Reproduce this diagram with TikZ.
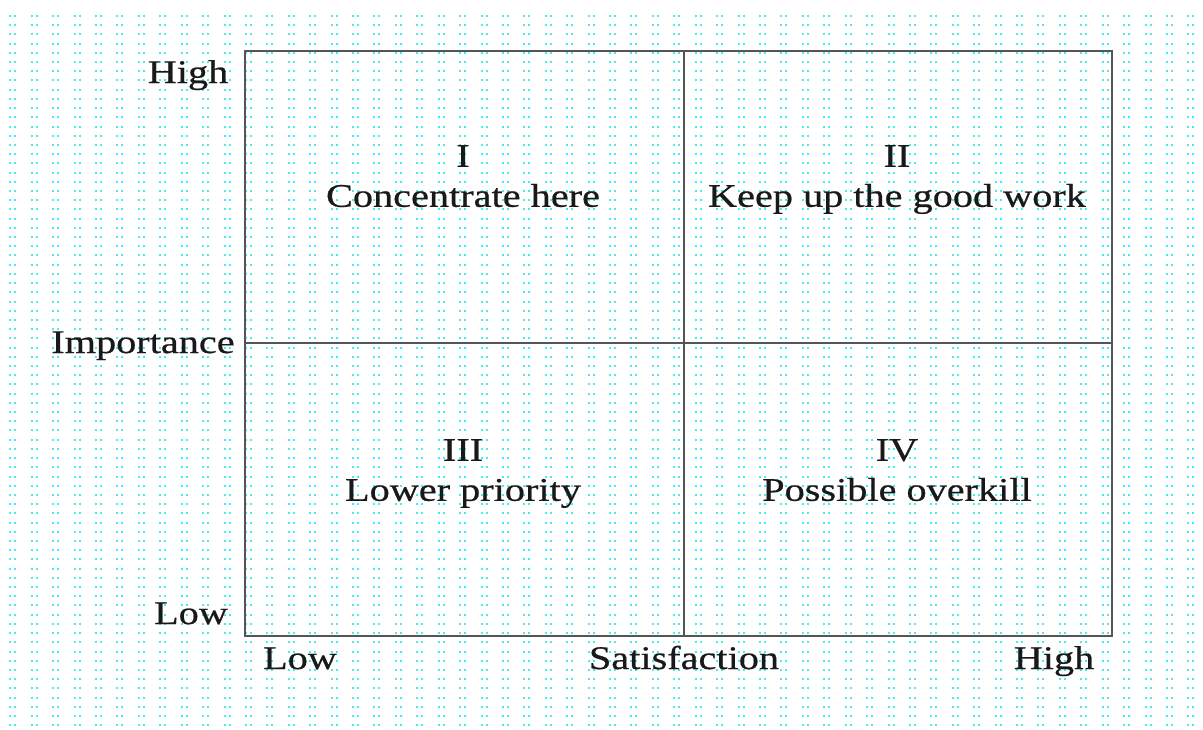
\documentclass[tikz,border=0pt]{standalone}
\usepackage{fontspec}
\setmainfont{Liberation Serif}[FakeStretch=1.22,FakeBold=0.6]
\definecolor{dotcyan}{RGB}{70,235,240}
\definecolor{framegray}{RGB}{85,85,85}
\begin{document}
\begin{tikzpicture}[x=1pt,y=-1pt,
  lbl/.style={inner sep=0pt,anchor=base,font=\fontsize{33}{38}\selectfont,text=black!90},
  quad/.style={inner sep=0pt,anchor=north,align=center,font=\fontsize{33}{40}\selectfont,text=black!90},
  frame/.style={draw=framegray,line width=2.8pt},
  dots/.style={draw=dotcyan,line width=2pt,dash pattern=on 2pt off 3pt on 2pt off 14.42pt}]
\useasboundingbox (0,0) rectangle (1203,729);
\fill[white] (0,0) rectangle (1203,729);
% dotted background
\foreach \i in {0,...,77}{
  \draw[dots] (9.3,{16+\i*9.21}) -- (1196,{16+\i*9.21});
}
% frame
\coordinate (tl) at (245,51);
\coordinate (br) at (1112,636);
\coordinate (mt) at (684,51);
\coordinate (mb) at (684,636);
\coordinate (ml) at (245,343);
\coordinate (mr) at (1112,343);
\draw[frame] (tl) rectangle (br);
\draw[frame] (mt) -- (mb);
\draw[frame] (ml) -- (mr);
% axis labels
\node[lbl] (yhigh) at (188,83) {High};
\node[lbl] (yimp) at (143,353) {Importance};
\node[lbl] (ylow) at (191,624) {Low};
\node[lbl] (xlow) at (300,669) {Low};
\node[lbl] (xsat) at (684,669) {Satisfaction};
\node[lbl] (xhigh) at (1054,669) {High};
% quadrant labels
\node[quad] (q1) at (463,145) {I\\Concentrate here};
\node[quad] (q2) at (897,145) {II\\Keep up the good work};
\node[quad] (q3) at (463,439) {III\\Lower priority};
\node[quad] (q4) at (897,439) {IV\\Possible overkill};
\end{tikzpicture}
\end{document}
